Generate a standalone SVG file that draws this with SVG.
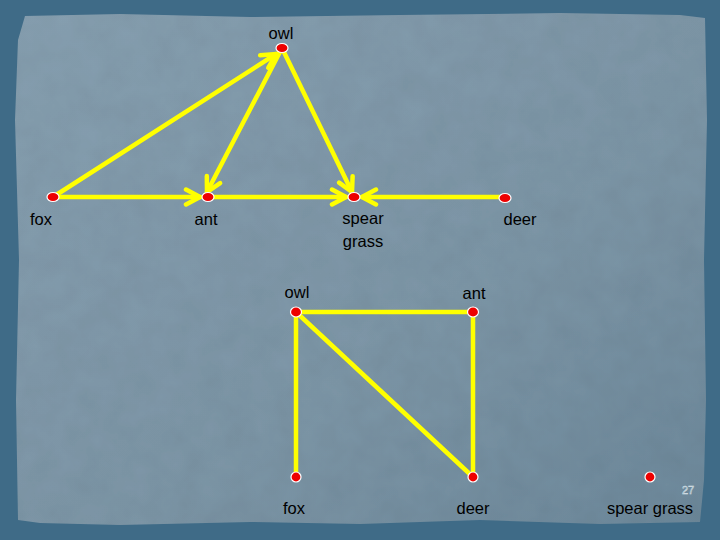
<svg xmlns="http://www.w3.org/2000/svg" width="720" height="540" viewBox="0 0 720 540">
<style>
.edge{stroke:#ffff00;stroke-width:4.5;fill:none;stroke-linecap:round}
.node{fill:#ee0000;stroke:#ffffff;stroke-width:1.2}
.lbl{font-family:"Liberation Sans",Arial,sans-serif;font-size:16.5px;fill:#000;text-anchor:middle}
</style>
<defs>
<marker id="arr" viewBox="0 0 20 20" refX="17" refY="10" markerWidth="20" markerHeight="20" markerUnits="userSpaceOnUse" orient="auto">
<path d="M3,2.5 L17,10 L3,17.5" fill="none" stroke="#ffff00" stroke-width="4.5" stroke-linecap="round" stroke-linejoin="miter"/>
</marker>
<linearGradient id="paper" x1="0" y1="0" x2="1" y2="1">
<stop offset="0" stop-color="#87a0b1"/>
<stop offset="0.6" stop-color="#7d96a7"/>
<stop offset="1" stop-color="#6d899b"/>
</linearGradient>
<filter id="tex" x="0" y="0" width="100%" height="100%">
<feTurbulence type="fractalNoise" baseFrequency="0.04" numOctaves="3" seed="3" result="n"/>
<feColorMatrix in="n" type="matrix" values="0 0 0 0 0  0 0 0 0 0  0 0 0 0 0  0 0 0 0.12 0" result="a"/>
<feComposite in="a" in2="SourceGraphic" operator="atop"/>
</filter>
</defs>
<rect x="0" y="0" width="720" height="540" fill="#3f6b87"/>
<path d="M25,16 L120,14 L250,17 L400,15 L560,13 L680,15 L705,18 L707,120 L704,260 L706,400 L704,480 L700,522 L600,524 L480,520 L360,524 L250,522 L120,525 L40,523 L18,520 L16,400 L19,260 L15,120 L18,40 Z" fill="url(#paper)" filter="url(#tex)"/>
<g id="connectors">
<line class="edge" x1="53" y1="197" x2="276" y2="54" marker-end="url(#arr)"/>
<line class="edge" x1="282" y1="48" x2="207" y2="192" marker-end="url(#arr)"/>
<line class="edge" x1="282" y1="48" x2="352" y2="192" marker-end="url(#arr)"/>
<line class="edge" x1="53" y1="197" x2="200" y2="197" marker-end="url(#arr)"/>
<line class="edge" x1="208" y1="197" x2="346" y2="197" marker-end="url(#arr)"/>
<line class="edge" x1="505" y1="197" x2="362" y2="197" marker-end="url(#arr)"/>
<line class="edge" x1="296" y1="312" x2="473" y2="312"/>
<line class="edge" x1="296" y1="312" x2="296" y2="477"/>
<line class="edge" x1="296" y1="312" x2="473" y2="477"/>
<line class="edge" x1="473" y1="312" x2="473" y2="477"/>
</g>
<g id="owl1"><ellipse class="node" cx="282" cy="48" rx="6" ry="4.5"/><text class="lbl" x="281" y="39">owl</text></g>
<g id="fox1"><ellipse class="node" cx="53" cy="197" rx="6" ry="4.5"/><text class="lbl" x="41" y="225">fox</text></g>
<g id="ant1"><ellipse class="node" cx="208" cy="197" rx="6" ry="4.5"/><text class="lbl" x="206" y="225">ant</text></g>
<g id="spear1"><ellipse class="node" cx="354" cy="197" rx="6" ry="4.5"/><text class="lbl" x="363" y="224">spear</text><text class="lbl" x="363" y="247">grass</text></g>
<g id="deer1"><ellipse class="node" cx="505" cy="198" rx="6" ry="4.5"/><text class="lbl" x="520" y="225">deer</text></g>
<g id="owl2"><ellipse class="node" cx="296" cy="312" rx="5.5" ry="5"/><text class="lbl" x="297" y="298">owl</text></g>
<g id="ant2"><ellipse class="node" cx="473" cy="312" rx="5.5" ry="5"/><text class="lbl" x="474" y="299">ant</text></g>
<g id="fox2"><ellipse class="node" cx="296" cy="477" rx="5" ry="5"/><text class="lbl" x="294" y="514">fox</text></g>
<g id="deer2"><ellipse class="node" cx="473" cy="477" rx="5" ry="5"/><text class="lbl" x="473" y="514">deer</text></g>
<g id="spear2"><ellipse class="node" cx="650" cy="477" rx="5" ry="5"/><text class="lbl" x="650" y="514">spear grass</text></g>
<text x="688" y="494" font-family="Liberation Sans,Arial,sans-serif" font-size="11" fill="#6d899b" stroke="#dfe8ef" stroke-width="0.5" text-anchor="middle">27</text>
</svg>
